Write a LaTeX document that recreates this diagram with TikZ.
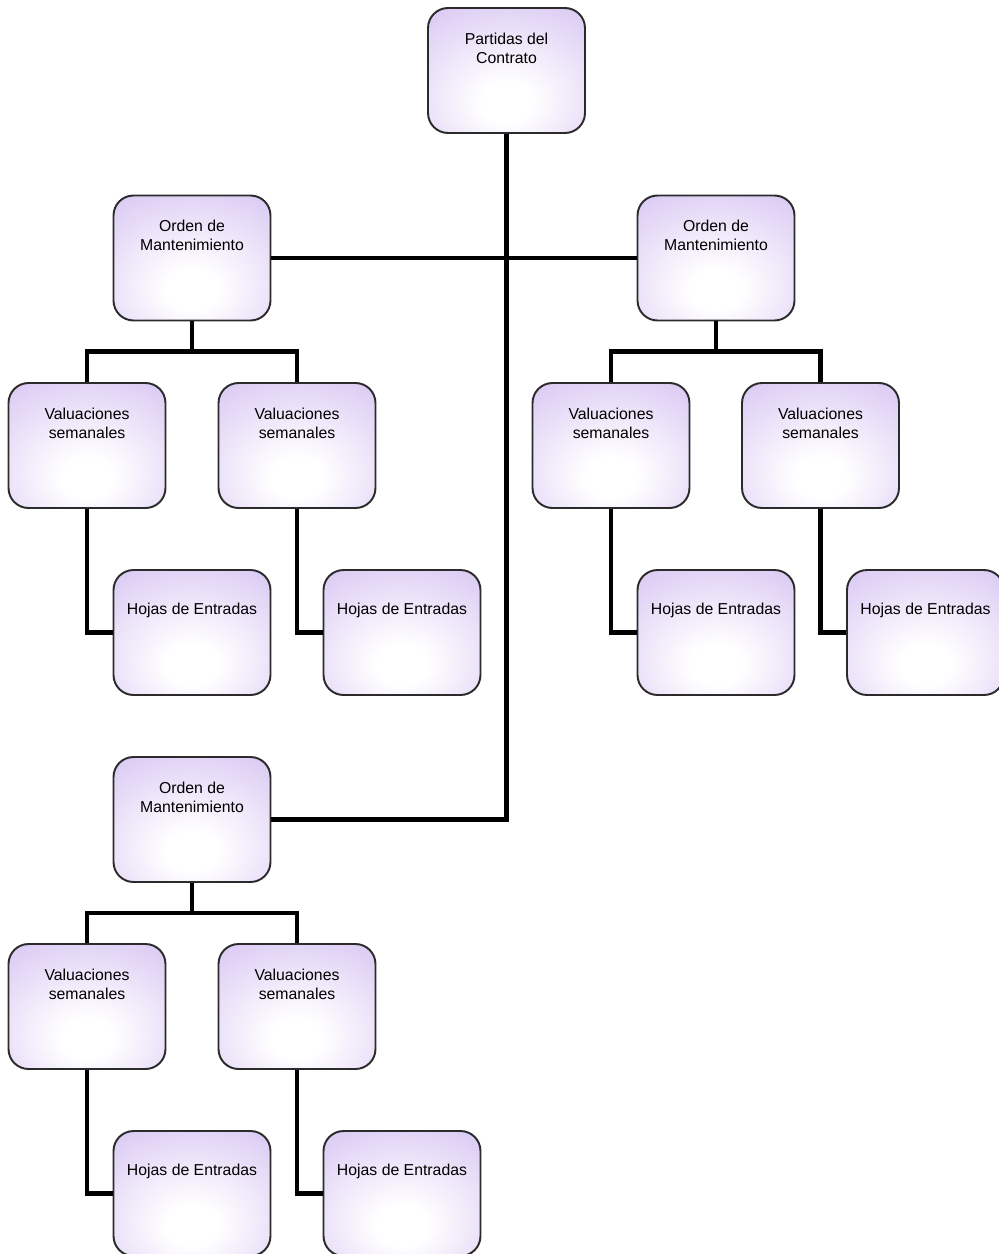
\documentclass[tikz,border=0pt]{standalone}
\usepackage{fontspec}
\setmainfont{Liberation Sans}
\usetikzlibrary{positioning}
\definecolor{lav}{HTML}{D9C7F3}
\definecolor{edge}{HTML}{2B2B2B}
\pgfdeclareradialshading{glow}{\pgfpoint{0bp}{-14bp}}{color(0bp)=(white); color(8bp)=(white); color(42bp)=(lav); color(100bp)=(lav)}
\tikzset{
  box/.style   = {draw=edge, line width=1.1pt, rectangle, rounded corners=0.4cm,
                  shading=glow, minimum width=3.14cm, minimum height=2.5cm},
  txt/.style   = {font=\fontsize{9}{10.8}\selectfont, align=center, anchor=north, yshift=-0.39cm},
  txtone/.style = {txt, yshift=-0.16cm},
  link/.style  = {draw=black, line width=2.8pt},
}

\begin{document}
\begin{tikzpicture}[x=0.02cm, y=0.02cm]
  \useasboundingbox (0,0) rectangle (998,-1254);

  % contract
  \node[box, label={[txt]north:Partidas del\\Contrato}] (part) at (506.5,-70.5) {};

  % maintenance orders
  \node[box, label={[txt]north:Orden de\\Mantenimiento}] (ordA) at (192,-258) {};
  \node[box, label={[txt]north:Orden de\\Mantenimiento}] (ordB) at (716,-258) {};
  \node[box, label={[txt]north:Orden de\\Mantenimiento}] (ordC) at (192,-819.5) {};

  % weekly valuations
  \node[box, label={[txt]north:Valuaciones\\semanales}] (valA1) at (87,-445.5) {};
  \node[box, label={[txt]north:Valuaciones\\semanales}] (valA2) at (297,-445.5) {};
  \node[box, label={[txt]north:Valuaciones\\semanales}] (valB1) at (611,-445.5) {};
  \node[box, label={[txt]north:Valuaciones\\semanales}] (valB2) at (820.5,-445.5) {};
  \node[box, label={[txt]north:Valuaciones\\semanales}] (valC1) at (87,-1006.5) {};
  \node[box, label={[txt]north:Valuaciones\\semanales}] (valC2) at (297,-1006.5) {};

  % entry sheets
  \node[box, label={[txtone]north:Hojas de Entradas}] (hojA1) at (192,-632.5) {};
  \node[box, label={[txtone]north:Hojas de Entradas}] (hojA2) at (402,-632.5) {};
  \node[box, label={[txtone]north:Hojas de Entradas}] (hojB1) at (716,-632.5) {};
  \node[box, label={[txtone]north:Hojas de Entradas}] (hojB2) at (925.5,-632.5) {};
  \node[box, label={[txtone]north:Hojas de Entradas}] (hojC1) at (192,-1193.5) {};
  \node[box, label={[txtone]north:Hojas de Entradas}] (hojC2) at (402,-1193.5) {};

  % contract -> orders
  \draw[link] (part.south) |- (ordC.east);
  \draw[link] (ordA.east) -- (ordB.west);

  % orders -> valuations
  \draw[link] (ordA.south) -- ++(0,-30) -| (valA1.north);
  \draw[link] (ordA.south) -- ++(0,-30) -| (valA2.north);
  \draw[link] (ordB.south) -- ++(0,-30) -| (valB1.north);
  \draw[link] (ordB.south) -- ++(0,-30) -| (valB2.north);
  \draw[link] (ordC.south) -- ++(0,-30) -| (valC1.north);
  \draw[link] (ordC.south) -- ++(0,-30) -| (valC2.north);

  % valuations -> entry sheets
  \draw[link] (valA1.south) |- (hojA1.west);
  \draw[link] (valA2.south) |- (hojA2.west);
  \draw[link] (valB1.south) |- (hojB1.west);
  \draw[link] (valB2.south) |- (hojB2.west);
  \draw[link] (valC1.south) |- (hojC1.west);
  \draw[link] (valC2.south) |- (hojC2.west);
\end{tikzpicture}
\end{document}
